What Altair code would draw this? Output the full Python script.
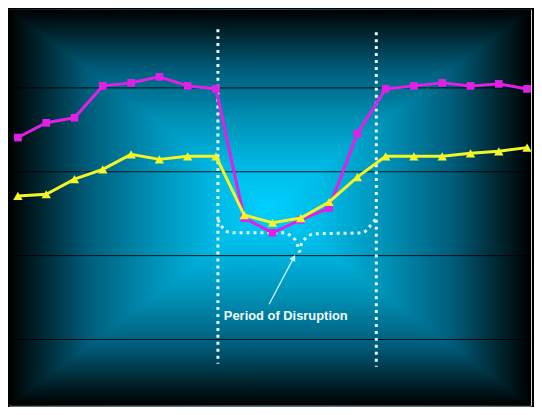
import altair as alt
import pandas as pd

# ---- data ----
x_idx = list(range(19))
magenta = [85.2, 89.6, 91.1, 100.6, 101.5, 103.3, 100.6, 99.7, 61.2, 56.8,
           60.7, 64.2, 86.4, 99.7, 100.6, 101.5, 100.6, 101.2, 99.7]
yellow = [67.8, 68.3, 72.8, 75.7, 80.2, 78.7, 79.6, 79.6, 62.1, 59.8,
          61.2, 66.0, 73.4, 79.6, 79.6, 79.6, 80.5, 81.1, 82.2]
grid_vals = [25, 50, 75, 100]

# disruption period markers (x position, top, bottom)
period_x = [7.07, 12.67]
period_top = [117.5, 116.6]
period_bot = [17.8, 16.9]

# brace annotation
brace_x = [7.07, 7.24, 7.42, 7.66, 9.44, 9.68, 9.85, 9.96, 10.03, 10.20, 10.45, 12.19, 12.40, 12.57, 12.71]
brace_y = [60.7, 58.3, 57.1, 56.8, 56.8, 55.6, 54.1, 51.2, 53.8, 55.3, 56.5, 56.8, 58.3, 60.1, 61.5]

arrow_from = (8.88, 35.5)
arrow_to = (9.75, 49.4)
label_pos = (9.47, 32.0)
label_text = "Period of Disruption"

W, H = 526, 399

xs = alt.Scale(domain=[-0.3158, 18.14], nice=False, zero=False)
ys = alt.Scale(domain=[5.33, 123.37], nice=False, zero=False)
us = alt.Scale(domain=[0, 1], nice=False, zero=False)

STOPS = [(0.0, "#000000"), (0.12, "#00252f"), (0.3, "#005c7a"),
         (0.55, "#0090b5"), (0.8, "#00bae6"), (1.0, "#00d0ff")]


def grad(horizontal, to_center):
    stops = [alt.GradientStop(color=c, offset=o if to_center else 1 - o) for o, c in STOPS]
    stops = sorted(stops, key=lambda s: s.offset)
    if horizontal:
        return alt.LinearGradient(gradient="linear", x1=0, x2=1, y1=0, y2=0, stops=stops)
    return alt.LinearGradient(gradient="linear", x1=0, x2=0, y1=0, y2=1, stops=stops)


def face(xv, yv, y2v, fill):
    d = pd.DataFrame({"u": xv, "v": yv, "v2": y2v})
    return alt.Chart(d).mark_area(color=fill, strokeWidth=0, opacity=1).encode(
        x=alt.X("u:Q", scale=us, axis=None),
        y=alt.Y("v:Q", scale=us, axis=None),
        y2="v2:Q")

# pyramid background: left/right halves below, top/bottom triangles above
left = face([0, 0.5], [0, 0], [1, 1], grad(True, True))
right = face([0.5, 1], [0, 0], [1, 1], grad(True, False))
top = face([0, 0.5, 1], [1, 1, 1], [1, 0.5, 1], grad(False, True))
bottom = face([0, 0.5, 1], [0, 0, 0], [0, 0.5, 0], grad(False, False))

grid = alt.Chart(pd.DataFrame({"g": grid_vals})).mark_rule(
    color="#000000", strokeWidth=1, opacity=0.85).encode(
    y=alt.Y("g:Q", scale=ys, axis=None),
    x=alt.value(0), x2=alt.value(W))

periods = alt.Chart(pd.DataFrame({"x": period_x, "t": period_top, "b": period_bot})).mark_rule(
    color="#e6fbff", strokeWidth=3, strokeDash=[3, 4]).encode(
    x=alt.X("x:Q", scale=xs, axis=None),
    y=alt.Y("t:Q", scale=ys, axis=None),
    y2="b:Q")

brace = alt.Chart(pd.DataFrame({"x": brace_x, "y": brace_y, "o": list(range(len(brace_x)))})).mark_line(
    color="#e6fbff", strokeWidth=3, strokeDash=[3, 4], interpolate="monotone").encode(
    x=alt.X("x:Q", scale=xs, axis=None),
    y=alt.Y("y:Q", scale=ys, axis=None),
    order="o:Q")

arrow = alt.Chart(pd.DataFrame({"x": [arrow_from[0]], "y": [arrow_from[1]],
                                "x2": [arrow_to[0]], "y2": [arrow_to[1]]})).mark_rule(
    color="#cdf3ff", strokeWidth=1.3).encode(
    x=alt.X("x:Q", scale=xs, axis=None), y=alt.Y("y:Q", scale=ys, axis=None),
    x2="x2:Q", y2="y2:Q")
arrow_head = alt.Chart(pd.DataFrame({"x": [arrow_to[0]], "y": [arrow_to[1]]})).mark_point(
    shape="triangle-up", filled=True, color="#cdf3ff", size=45, angle=28, opacity=1).encode(
    x=alt.X("x:Q", scale=xs, axis=None), y=alt.Y("y:Q", scale=ys, axis=None))

label = alt.Chart(pd.DataFrame({"x": [label_pos[0]], "y": [label_pos[1]], "t": [label_text]})).mark_text(
    font="Liberation Sans", fontSize=13, fontWeight="bold", color="#eefbff",
    align="center", baseline="middle").encode(
    x=alt.X("x:Q", scale=xs, axis=None), y=alt.Y("y:Q", scale=ys, axis=None), text="t:N")

df = pd.DataFrame({"x": x_idx, "m": magenta, "yl": yellow})
mline = alt.Chart(df).mark_line(color="#e020e6", strokeWidth=3).encode(
    x=alt.X("x:Q", scale=xs, axis=None), y=alt.Y("m:Q", scale=ys, axis=None))
mpts = alt.Chart(df).mark_point(shape="square", filled=True, color="#e020e6", size=60, opacity=1).encode(
    x=alt.X("x:Q", scale=xs, axis=None), y=alt.Y("m:Q", scale=ys, axis=None))
yline = alt.Chart(df).mark_line(color="#f2f52a", strokeWidth=3).encode(
    x=alt.X("x:Q", scale=xs, axis=None), y=alt.Y("yl:Q", scale=ys, axis=None))
ypts = alt.Chart(df).mark_point(shape="triangle-up", filled=True, color="#f2f52a", size=90, opacity=1).encode(
    x=alt.X("x:Q", scale=xs, axis=None), y=alt.Y("yl:Q", scale=ys, axis=None))

chart = alt.layer(left, right, top, bottom, grid, periods, brace, arrow, arrow_head, label,
                  mline, mpts, yline, ypts).resolve_scale(
    x="independent", y="independent"
).properties(
    width=W, height=H, padding=0
).configure_view(stroke=None).configure(background="#000000")

chart.save("out.html", embed_options={"renderer": "svg", "actions": False})
